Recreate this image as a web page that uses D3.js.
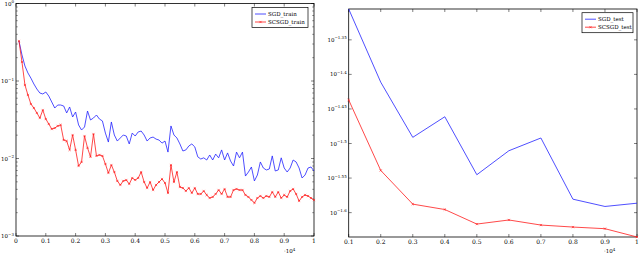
<!DOCTYPE html>
<html><head><meta charset="utf-8">
<script src="https://cdn.jsdelivr.net/npm/d3@7"></script>
<style>
html,body{margin:0;padding:0;background:#fff;}
svg{display:block;}
text{font-family:"DejaVu Serif","Liberation Serif",serif;fill:#000;}
</style></head>
<body>
<svg id="c" width="640" height="256"></svg>
<script>
// ---- data (x in units of 10^4 iterations) ----
const trainIters = [0.01,0.02,0.03,0.04,0.05,0.06,0.07,0.08,0.09,0.10,0.11,0.12,0.13,0.14,0.15,0.16,0.17,0.18,0.19,0.20,
0.21,0.22,0.23,0.24,0.25,0.26,0.27,0.28,0.29,0.30,0.31,0.32,0.33,0.34,0.35,0.36,0.37,0.38,0.39,0.40,
0.41,0.42,0.43,0.44,0.45,0.46,0.47,0.48,0.49,0.50,0.51,0.52,0.53,0.54,0.55,0.56,0.57,0.58,0.59,0.60,
0.61,0.62,0.63,0.64,0.65,0.66,0.67,0.68,0.69,0.70,0.71,0.72,0.73,0.74,0.75,0.76,0.77,0.78,0.79,0.80,
0.81,0.82,0.83,0.84,0.85,0.86,0.87,0.88,0.89,0.90,0.91,0.92,0.93,0.94,0.95,0.96,0.97,0.98,0.99,1.00];
const sgdTrain = [0.328,0.217,0.156,0.127,0.109,0.0915,0.0788,0.0700,0.0680,0.0721,
0.0640,0.0536,0.0448,0.0490,0.0490,0.0476,0.0387,0.0462,0.0343,0.0398,
0.0271,0.0233,0.0255,0.0410,0.0314,0.0333,0.0364,0.0323,0.0305,0.0213,
0.0163,0.0296,0.0201,0.0168,0.0184,0.0201,0.0195,0.0154,0.0213,0.0195,
0.0220,0.0226,0.0201,0.0168,0.0184,0.0189,0.0178,0.0173,0.0158,0.0168,
0.0121,0.0263,0.0201,0.0184,0.0154,0.0125,0.0129,0.0145,0.0154,0.0141,
0.0105,0.00985,0.0102,0.00956,0.0111,0.00956,0.0114,0.0102,0.0129,0.00956,
0.0118,0.00928,0.0080,0.0121,0.0102,0.0121,0.00594,0.00669,0.00777,0.00513,
0.00612,0.00902,0.00754,0.00711,0.00732,0.0108,0.0069,0.00711,0.0102,0.00754,
0.00669,0.00754,0.00956,0.00902,0.00754,0.0056,0.00612,0.00754,0.00777,0.0069];
const scsgdTrain = [0.328,0.176,0.0888,0.0660,0.0505,0.0448,0.0387,0.0333,0.0422,0.0323,
0.0279,0.0240,0.0247,0.0263,0.0271,0.0173,0.0168,0.0129,0.0201,0.0129,
0.0080,0.00902,0.0195,0.0137,0.0105,0.0207,0.0108,0.0111,0.0108,0.00849,
0.0065,0.00824,0.00669,0.00513,0.00455,0.00513,0.00528,0.00469,0.0056,0.00528,
0.0056,0.00669,0.00497,0.00416,0.00497,0.00392,0.00455,0.00497,0.00544,0.00483,
0.00359,0.00824,0.00497,0.00669,0.00429,0.00416,0.00381,0.00416,0.00359,0.00416,
0.00348,0.00348,0.00381,0.00338,0.00309,0.00319,0.00348,0.00392,0.00348,0.00404,
0.00319,0.00319,0.00392,0.00404,0.00392,0.00392,0.00338,0.00319,0.00291,0.00267,
0.00309,0.00328,0.00309,0.00328,0.00319,0.0037,0.00319,0.0037,0.00309,0.00338,
0.00319,0.00381,0.00404,0.00348,0.00283,0.00319,0.00338,0.00328,0.00309,0.00291];

const testIters = [0.1,0.2,0.3,0.4,0.5,0.6,0.7,0.8,0.9,1.0];
const sgdTest   = [0.0495,0.03879,0.03228,0.03457,0.02850,0.03087,0.03221,0.02627,0.02564,0.02592];
const scsgdTest = [0.03656,0.02891,0.02584,0.02538,0.02418,0.02451,0.02410,0.02394,0.02381,0.02316];

const leftXTicks = [0,0.1,0.2,0.3,0.4,0.5,0.6,0.7,0.8,0.9,1];
const leftXTickLabels = ["0","0.1","0.2","0.3","0.4","0.5","0.6","0.7","0.8","0.9","1"];
const leftYTickExps = [0,-1,-2,-3];
const rightXTicks = [0.1,0.2,0.3,0.4,0.5,0.6,0.7,0.8,0.9,1];
const rightXTickLabels = ["0.1","0.2","0.3","0.4","0.5","0.6","0.7","0.8","0.9","1"];
const rightYTickExps = [-1.35,-1.4,-1.45,-1.5,-1.55,-1.6];
const rightYTickLabels = ["\u22121.35","\u22121.4","\u22121.45","\u22121.5","\u22121.55","\u22121.6"];
const leftLegend = ["SGD_train","SCSGD_train"];
const rightLegend = ["SGD_test","SCSGD_test"];
const colors = ["#2222ff","#ff1a1a"];

const svg = d3.select("#c");

function panel(cfg){
  const g = svg.append("g");
  const x = cfg.x, y = cfg.y;
  const [x0,x1] = x.range(), [y0,y1] = y.range();
  // frame
  g.append("rect").attr("x",x0).attr("y",y1).attr("width",x1-x0).attr("height",y0-y1)
    .attr("fill","none").attr("stroke","#000").attr("stroke-width",0.8);
  // x ticks
  const tl = 3;
  cfg.xTicks.forEach((t,i)=>{
    const px = x(t);
    g.append("line").attr("x1",px).attr("x2",px).attr("y1",y0).attr("y2",y0-tl).attr("stroke","#000").attr("stroke-width",0.5);
    g.append("line").attr("x1",px).attr("x2",px).attr("y1",y1).attr("y2",y1+tl).attr("stroke","#000").attr("stroke-width",0.5);
    g.append("text").attr("x",px).attr("y",y0+7).attr("text-anchor","middle").attr("font-size",6).text(cfg.xLabels[i]);
  });
  // y ticks
  cfg.yTicks.forEach((v,i)=>{
    const py = y(v);
    g.append("line").attr("x1",x0).attr("x2",x0+tl).attr("y1",py).attr("y2",py).attr("stroke","#000").attr("stroke-width",0.5);
    g.append("line").attr("x1",x1).attr("x2",x1-tl).attr("y1",py).attr("y2",py).attr("stroke","#000").attr("stroke-width",0.5);
    const t = g.append("text").attr("x",x0-2).attr("y",py+2).attr("text-anchor","end").attr("font-size",5.5);
    t.append("tspan").text("10");
    t.append("tspan").attr("dy",-2.5).attr("font-size",4).text(cfg.yLabels[i]);
  });
  (cfg.minorTicks||[]).forEach(v=>{
    const py = y(v);
    g.append("line").attr("x1",x0).attr("x2",x0+1.8).attr("y1",py).attr("y2",py).attr("stroke","#000").attr("stroke-width",0.4);
    g.append("line").attr("x1",x1).attr("x2",x1-1.8).attr("y1",py).attr("y2",py).attr("stroke","#000").attr("stroke-width",0.4);
  });
  // series
  const line = d3.line().x((d,i)=>x(cfg.xs[i])).y(d=>y(d));
  cfg.series.forEach((s,k)=>{
    g.append("path").datum(s).attr("d",line).attr("fill","none").attr("stroke",colors[k]).attr("stroke-width",0.8).attr("stroke-linejoin","round");
    if(k===1){
      const m=1.1;
      s.forEach((d,i)=>{
        const px=x(cfg.xs[i]), py=y(d);
        g.append("path").attr("d",`M${px-m},${py-m}L${px+m},${py+m}M${px-m},${py+m}L${px+m},${py-m}`).attr("stroke",colors[1]).attr("stroke-width",0.6);
      });
    }
  });
  // x scale factor label
  const lt = g.append("text").attr("x",cfg.factorX).attr("y",253).attr("font-size",5.5);
  lt.append("tspan").text("\u00b710");
  lt.append("tspan").attr("dy",-2.5).attr("font-size",4).text("4");
  // legend
  const L = cfg.legend;
  g.append("rect").attr("x",L.x).attr("y",L.y).attr("width",L.w).attr("height",L.h).attr("fill","#fff").attr("stroke","#000").attr("stroke-width",0.7);
  cfg.legendNames.forEach((n,k)=>{
    const ly = L.y+6.5+k*8;
    g.append("line").attr("x1",L.x+3).attr("x2",L.x+14).attr("y1",ly).attr("y2",ly).attr("stroke",colors[k]).attr("stroke-width",0.8);
    if(k===1){const m=1.1,cx=L.x+8.5;g.append("path").attr("d",`M${cx-m},${ly-m}L${cx+m},${ly+m}M${cx-m},${ly+m}L${cx+m},${ly-m}`).attr("stroke",colors[1]).attr("stroke-width",0.6);}
    g.append("text").attr("x",L.x+16).attr("y",ly+2).attr("font-size",5.5).text(n);
  });
}

// left
const xL = d3.scaleLinear().domain([0,1]).range([16,314]);
const yL = d3.scaleLog().domain([1e-3,1]).range([236,3.5]);
const minorL = [];
[1e-3,1e-2,1e-1].forEach(b=>{for(let k=2;k<=9;k++) minorL.push(b*k);});
panel({x:xL,y:yL,xs:trainIters,series:[sgdTrain,scsgdTrain],xTicks:leftXTicks,xLabels:leftXTickLabels,
  yTicks:leftYTickExps.map(e=>Math.pow(10,e)),yLabels:leftYTickExps.map(e=>e===0?"0":"\u2212"+(-e)),
  minorTicks:minorL,factorX:284,legend:{x:252,y:7.5,w:56,h:20},legendNames:leftLegend});

// right
const allTest = sgdTest.concat(scsgdTest);
const xR = d3.scaleLinear().domain([0.1,1]).range([348.7,637]);
const yR = d3.scaleLog().domain(d3.extent(allTest)).range([237,9]);
panel({x:xR,y:yR,xs:testIters,series:[sgdTest,scsgdTest],xTicks:rightXTicks,xLabels:rightXTickLabels,
  yTicks:rightYTickExps.map(e=>Math.pow(10,e)),yLabels:rightYTickLabels,
  factorX:604,legend:{x:582,y:12.7,w:51,h:20},legendNames:rightLegend});
</script>
</body></html>
